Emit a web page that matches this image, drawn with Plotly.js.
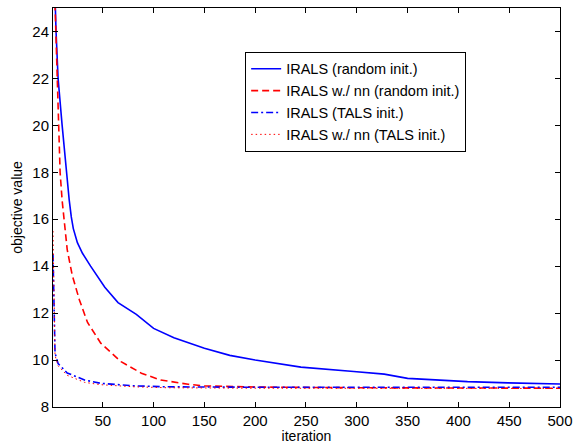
<!DOCTYPE html>
<html>
<head>
<meta charset="utf-8">
<script src="https://cdn.plot.ly/plotly-3.0.1.min.js"></script>
<style>html,body{margin:0;padding:0;background:#fff;}#chart{width:575px;height:444px;}</style>
</head>
<body>
<div id="chart"></div>
<script>
// IRALS (random init.)
const iterRandom = [1, 2, 3, 4, 6, 10, 14, 17, 19, 21, 25, 30, 38, 52, 65, 83, 100, 120, 150, 175, 200, 245, 297, 327, 350, 376, 409, 449, 500];
const valRandom  = [32, 28, 25.5, 24, 22, 20, 18, 16.8, 16.1, 15.6, 15.0, 14.55, 14.0, 13.1, 12.45, 11.95, 11.35, 10.95, 10.5, 10.2, 10.0, 9.7, 9.51, 9.4, 9.22, 9.15, 9.08, 9.03, 8.98];
// IRALS w./ nn (random init.)
const iterRandomNN = [1, 2, 3, 5, 6, 8, 10, 12, 15, 20, 27, 35, 48, 68, 88, 107, 134, 150, 200, 300, 400, 500];
const valRandomNN  = [28, 26.5, 25, 22, 20, 18, 16.8, 16.0, 14.7, 13.6, 12.56, 11.6, 10.72, 9.93, 9.44, 9.15, 8.97, 8.9, 8.85, 8.82, 8.81, 8.8];
// IRALS (TALS init.)
const iterTals = [1, 2, 3, 6, 15, 32, 48, 81, 114, 200, 300, 400, 500];
const valTals  = [14.5, 11.5, 10.3, 9.85, 9.45, 9.15, 9.01, 8.9, 8.86, 8.84, 8.84, 8.84, 8.84];
// IRALS w./ nn (TALS init.)
const iterTalsNN = [1, 2, 3, 6, 15, 32, 48, 81, 114, 200, 300, 500];
const valTalsNN  = [15.5, 11.5, 10.2, 9.75, 9.35, 9.05, 8.95, 8.86, 8.82, 8.8, 8.79, 8.79];

const seriesNames = ["IRALS (random init.)", "IRALS w./ nn (random init.)", "IRALS (TALS init.)", "IRALS w./ nn (TALS init.)"];
const xTicks = [50, 100, 150, 200, 250, 300, 350, 400, 450, 500];
const yTicks = [8, 10, 12, 14, 16, 18, 20, 22, 24];

const FONT = "Liberation Sans, Arial, Helvetica, sans-serif";

const traces = [
  {x: iterRandom, y: valRandom, name: seriesNames[0], mode: "lines", line: {color: "#0000ff", width: 1.6, dash: "solid"}},
  {x: iterRandomNN, y: valRandomNN, name: seriesNames[1], mode: "lines", line: {color: "#ff0000", width: 1.6, dash: "7px,4px"}},
  {x: iterTals, y: valTals, name: seriesNames[2], mode: "lines", line: {color: "#0000ff", width: 1.6, dash: "7px,3px,2px,3px"}},
  {x: iterTalsNN, y: valTalsNN, name: seriesNames[3], mode: "lines", line: {color: "#ff0000", width: 1, dash: "1.5px,3px"}}
];

const axisCommon = {
  showline: true, linecolor: "#000", linewidth: 1, mirror: "ticks",
  ticks: "inside", ticklen: 5, tickcolor: "#000", tickwidth: 1,
  showgrid: false, zeroline: false,
  tickfont: {family: FONT, size: 15, color: "#000"}
};

const layout = {
  width: 575, height: 444,
  margin: {l: 53, r: 15, t: 8, b: 37, pad: 0},
  paper_bgcolor: "#fff", plot_bgcolor: "#fff",
  showlegend: true,
  legend: {
    x: 0.379, y: 0.89, xanchor: "left", yanchor: "top",
    bgcolor: "#fff", bordercolor: "#000", borderwidth: 1,
    font: {family: FONT, size: 14.5, color: "#000"},
    tracegroupgap: 0
  },
  xaxis: Object.assign({}, axisCommon, {
    range: [1, 500], tickmode: "array", tickvals: xTicks,
    title: {text: "iteration", font: {family: FONT, size: 14, color: "#000"}, standoff: 4}
  }),
  yaxis: Object.assign({}, axisCommon, {
    range: [8, 25], tickmode: "array", tickvals: yTicks,
    title: {text: "objective value", font: {family: FONT, size: 14, color: "#000"}, standoff: 6}
  })
};

Plotly.newPlot("chart", traces, layout, {displayModeBar: false, staticPlot: true});
</script>
</body>
</html>
